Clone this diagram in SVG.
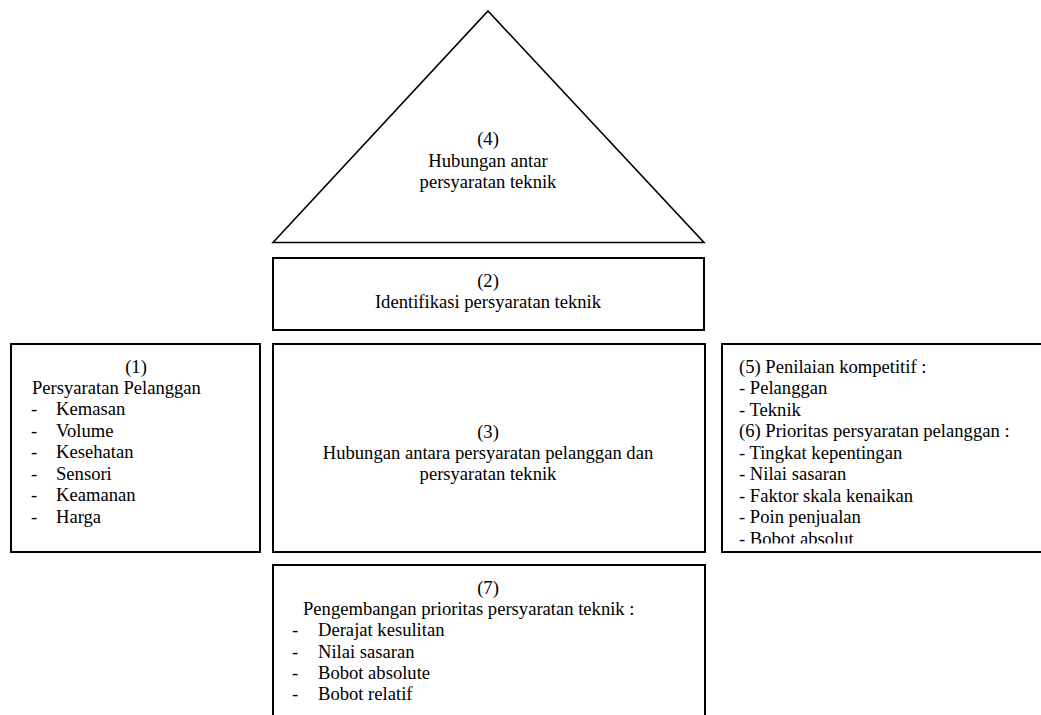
<svg xmlns="http://www.w3.org/2000/svg" width="1041" height="715" viewBox="0 0 1041 715">
<style>
.box{fill:#ffffff;stroke:#000000;stroke-width:2}
.tri{fill:#ffffff;stroke:#000000;stroke-width:1.6}
text{font-family:"Liberation Serif","Times New Roman",serif;font-size:18.6px;fill:#000000}
.c{text-anchor:middle}
</style>
<defs>
<clipPath id="clip5"><rect x="722" y="345" width="330" height="198.5"/></clipPath>
</defs>
<rect x="0" y="0" width="1041" height="715" fill="#ffffff"/>
<g id="connectors"/>
<g id="node4">
<polygon class="tri" points="273,242.5 488,11 704,242.5"/>
<text class="c" x="488" y="145">(4)</text>
<text class="c" x="488" y="166.5">Hubungan antar</text>
<text class="c" x="488" y="188">persyaratan teknik</text>
</g>
<g id="node2">
<rect class="box" x="273" y="258" width="431" height="72"/>
<text class="c" x="488" y="287">(2)</text>
<text class="c" x="488" y="308">Identifikasi persyaratan teknik</text>
</g>
<g id="node1">
<rect class="box" x="11" y="344" width="249" height="208"/>
<text class="c" x="136" y="373">(1)</text>
<text x="32" y="393.5">Persyaratan Pelanggan</text>
<text x="31" y="415">-</text><text x="56" y="415">Kemasan</text>
<text x="31" y="436.5">-</text><text x="56" y="436.5">Volume</text>
<text x="31" y="458">-</text><text x="56" y="458">Kesehatan</text>
<text x="31" y="479.5">-</text><text x="56" y="479.5">Sensori</text>
<text x="31" y="501">-</text><text x="56" y="501">Keamanan</text>
<text x="31" y="522.5">-</text><text x="56" y="522.5">Harga</text>
</g>
<g id="node3">
<rect class="box" x="273" y="344" width="432" height="208"/>
<text class="c" x="488" y="437.5">(3)</text>
<text class="c" x="488" y="458.8">Hubungan antara persyaratan pelanggan dan</text>
<text class="c" x="488" y="480">persyaratan teknik</text>
</g>
<g id="node56">
<rect class="box" x="722" y="344" width="330" height="208"/>
<g clip-path="url(#clip5)">
<text x="739" y="373">(5) Penilaian kompetitif :</text>
<text x="739" y="394">- Pelanggan</text>
<text x="739" y="415.5">- Teknik</text>
<text x="739" y="437">(6) Prioritas persyaratan pelanggan :</text>
<text x="739" y="458.5">- Tingkat kepentingan</text>
<text x="739" y="480">- Nilai sasaran</text>
<text x="739" y="501.5">- Faktor skala kenaikan</text>
<text x="739" y="523">- Poin penjualan</text>
<text x="739" y="544.5">- Bobot absolut</text>
</g>
</g>
<g id="node7">
<rect class="box" x="273" y="565" width="432" height="160"/>
<text class="c" x="488" y="594">(7)</text>
<text x="303" y="615">Pengembangan prioritas persyaratan teknik :</text>
<text x="292" y="636.3">-</text><text x="318" y="636.3">Derajat kesulitan</text>
<text x="292" y="657.5">-</text><text x="318" y="657.5">Nilai sasaran</text>
<text x="292" y="678.7">-</text><text x="318" y="678.7">Bobot absolute</text>
<text x="292" y="700">-</text><text x="318" y="700">Bobot relatif</text>
</g>
</svg>
